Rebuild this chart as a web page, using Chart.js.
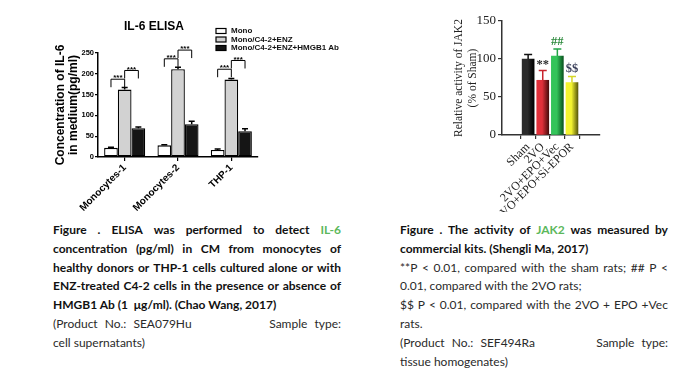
<!DOCTYPE html>
<html>
<head>
<meta charset="utf-8">
<script src="https://cdn.jsdelivr.net/npm/chart.js@4.4.1/dist/chart.umd.min.js"></script>
<style>
body{margin:0;background:#fff;width:691px;height:378px;overflow:hidden;position:relative;font-family:Lato,"Noto Sans",sans-serif}
.box{position:absolute;top:0}
.cap{position:absolute;top:221px;font-size:12px;line-height:18.8px;color:#2a2a2a}
.cap .ln{display:flex;white-space:nowrap;height:18.8px}
.cap .j{justify-content:space-between}
.cap .b{font-weight:700;color:#111}
.cap .g{color:#5cb85c}
.cap .grp{word-spacing:4px}
</style>
</head>
<body>
<div class="box" style="left:0;width:345px;height:212px"><canvas id="c1" width="345" height="212"></canvas></div>
<div class="box" style="left:430px;width:200px;height:212px"><canvas id="c2" width="200" height="212"></canvas></div>
<div id="cap1" class="cap" style="left:53px;width:288px"></div>
<div id="cap2" class="cap" style="left:400px;width:268px"></div>
<script>
// IL-6 ELISA (left)
const groups = ['Monocytes-1', 'Monocytes-2', 'THP-1'];
const seriesNames = ['Mono', 'Mono/C4-2+ENZ', 'Mono/C4-2+ENZ+HMGB1 Ab'];
const monoVals = [22, 28, 17];
const enzVals = [162, 211, 186];
const hmgbVals = [69, 79, 62];
const monoErr = [1.5, 1.5, 2];
const enzErr = [5, 5, 2.5];
const hmgbErr = [3, 7, 6];
const il6Ticks = [0, 50, 100, 150, 200, 250];

// JAK2 activity (right)
const jakGroups = ['Sham', '2VO', '2VO+EPO+Vec', '2VO+EPO+Si-EPOR'];
const jakVals = [100, 72, 104, 69];
const jakErr = [6, 13, 9, 8];
const jakMarks = ['', '**', '##', '$$'];
const jakTicks = [0, 50, 100, 150];

// captions: [kind, bold, text] kind j=justified, l=left, s=split
const cap1 = [
	['j', 1, 'Figure . ELISA was performed to detect {IL-6}'],
	['j', 1, 'concentration (pg/ml) in CM from monocytes of'],
	['j', 1, 'healthy donors or THP-1 cells cultured alone or with'],
	['j', 1, 'ENZ-treated C4-2 cells in the presence or absence of'],
	['l', 1, 'HMGB1 Ab (1 \u00a0\u03bcg/ml). (Chao Wang, 2017)'],
	['s', 0, '(Product No.: SEA079Hu|Sample type:'],
	['l', 0, 'cell supernatants)'],
];
const cap2 = [
	['j', 1, 'Figure . The activity of {JAK2} was measured by'],
	['l', 1, 'commercial kits. (Shengli Ma, 2017)'],
	['j', 0, '**P < 0.01, compared with the sham rats; ## P <'],
	['l', 0, '0.01, compared with the 2VO rats;'],
	['j', 0, '$$ P < 0.01, compared with the 2VO + EPO +Vec'],
	['l', 0, 'rats.'],
	['s', 0, '(Product No.: SEF494Ra|Sample type:'],
	['l', 0, 'tissue homogenates)'],
];

const esc = s => s.replace(/&/g,'&amp;').replace(/</g,'&lt;').replace(/\{(.*?)\}/g, '<span class="g">$1</span>');
const buildCap = (id, lines) => {
	const box = document.getElementById(id);
	lines.forEach(([k, b, t]) => {
		const d = document.createElement('div');
		d.className = 'ln' + (b ? ' b' : '') + (k != 'l' ? ' j' : '');
		if (k == 'j') d.innerHTML = t.split(' ').map(w => `<span>${esc(w)}</span>`).join('');
		else if (k == 's') d.innerHTML = t.split('|').map(w => `<span class="grp">${esc(w)}</span>`).join('');
		else d.innerHTML = `<span>${esc(t)}</span>`;
		box.appendChild(d);
	});
};
buildCap('cap1', cap1);
buildCap('cap2', cap2);

const sans = 'Liberation Sans';
const serif = 'Liberation Serif';

const errorBars = {
	id: 'errorBars',
	afterDatasetsDraw(chart) {
		const {ctx} = chart, y = chart.scales.y;
		chart.data.datasets.forEach((ds, j) => {
			if (!ds.err) return;
			chart.getDatasetMeta(j).data.forEach((el, i) => {
				const v = typeof ds.data[i] == 'object' ? ds.data[i].y : ds.data[i];
				const top = y.getPixelForValue(v + ds.err[i]);
				ctx.save();
				ctx.strokeStyle = Array.isArray(ds.errColor) ? ds.errColor[i] : ds.errColor;
				ctx.lineWidth = 1.5;
				ctx.beginPath();
				ctx.moveTo(el.x, el.y); ctx.lineTo(el.x, top);
				ctx.moveTo(el.x - ds.capW, top); ctx.lineTo(el.x + ds.capW, top);
				ctx.stroke();
				ctx.restore();
			});
		});
	}
};

const il6Extras = {
	id: 'il6Extras',
	afterDraw(chart) {
		const {ctx} = chart, y = chart.scales.y;
		const m = [0, 1, 2].map(j => chart.getDatasetMeta(j).data);
		ctx.save();
		ctx.strokeStyle = '#000'; ctx.fillStyle = '#000'; ctx.lineWidth = 1;
		ctx.font = `bold 8px "${sans}"`; ctx.textAlign = 'center'; ctx.textBaseline = 'bottom';
		groups.forEach((g, i) => {
			[[0, 1, 25], [1, 2, 46]].forEach(([a, b, off]) => {
				const x1 = m[a][i].x, x2 = m[b][i].x;
				const t = y.getPixelForValue(enzVals[i] + off);
				ctx.beginPath();
				ctx.moveTo(x1, t + 8); ctx.lineTo(x1, t); ctx.lineTo(x2, t); ctx.lineTo(x2, t + 8);
				ctx.stroke();
				ctx.fillText('***', (x1 + x2) / 2, t + 3);
			});
		});
		// legend
		const cols = chart.data.datasets.map(d => d.backgroundColor);
		ctx.textAlign = 'left'; ctx.textBaseline = 'middle';
		ctx.font = `bold 8px "${sans}"`;
		seriesNames.forEach((n, k) => {
			const yy = 31 + k * 8.5;
			ctx.fillStyle = cols[k];
			ctx.fillRect(216, yy - 2.5, 10, 5);
			ctx.lineWidth = 1.2; ctx.strokeStyle = '#000';
			ctx.strokeRect(216, yy - 2.5, 10, 5);
			ctx.fillStyle = '#111';
			ctx.fillText(n, 231, yy);
		});
		ctx.restore();
	}
};

new Chart(document.getElementById('c1'), {
	type: 'bar',
	data: {
		labels: groups,
		datasets: [
			{label: seriesNames[0], data: monoVals, err: monoErr, backgroundColor: '#ffffff'},
			{label: seriesNames[1], data: enzVals, err: enzErr, backgroundColor: '#d2d2d2'},
			{label: seriesNames[2], data: hmgbVals, err: hmgbErr, backgroundColor: '#151515'},
		].map(d => Object.assign(d, {borderColor: '#000', borderWidth: 1.3, borderSkipped: false, errColor: '#000', capW: 3, categoryPercentage: 0.77, barPercentage: 1}))
	},
	options: {
		responsive: false, animation: false, devicePixelRatio: 1,
		layout: {padding: {left: 50, right: 87, top: 0, bottom: 0}},
		plugins: {
			legend: {display: false}, tooltip: {enabled: false},
			title: {display: true, text: 'IL-6 ELISA', color: '#000', font: {family: sans, size: 12, weight: 'bold'}, padding: {top: 19, bottom: 19.6}},
		},
		scales: {
			x: {
				afterFit: s => { s.height = 55 },
				border: {color: '#000', width: 1.5},
				grid: {offset: false, drawOnChartArea: false, tickLength: 4, color: '#000', lineWidth: 1.2},
				ticks: {minRotation: 45, maxRotation: 45, padding: 1, color: '#000', font: {family: sans, size: 10, weight: 'bold'}},
			},
			y: {
				min: 0, max: 250,
				afterFit: s => { s.width = 48 },
				afterBuildTicks: s => { s.ticks = il6Ticks.map(v => ({value: v})) },
				border: {color: '#000', width: 1.5},
				grid: {drawOnChartArea: false, tickLength: 3, color: '#000', lineWidth: 1.2},
				ticks: {padding: 1, color: '#000', font: {family: sans, size: 7.5, weight: 'bold'}},
				title: {display: true, text: ['Concentration of IL-6', 'in medium(pg/ml)'], color: '#000', font: {family: sans, size: 12, weight: 'bold', lineHeight: 1.1}, padding: {top: 4, bottom: 0}},
			}
		}
	},
	plugins: [errorBars, il6Extras]
});

const jakCols = [['#2b2b2b', '#000000'], ['#e0303a', '#4a0c0c'], ['#34c45a', '#0a5520'], ['#f4f430', '#5a5a0a']];
const jakErrCols = ['#111', '#c8242e', '#22a446', '#d6d628'];
const jakMarkCols = ['#222', '#2a2a2a', '#2e8b3e', '#3a3f5a'];

const jakExtras = {
	id: 'jakExtras',
	afterDraw(chart) {
		const {ctx} = chart, y = chart.scales.y;
		ctx.save();
		ctx.font = `bold 12.5px "${serif}"`; ctx.textAlign = 'center'; ctx.textBaseline = 'alphabetic';
		chart.getDatasetMeta(0).data.forEach((el, i) => {
			if (!jakMarks[i]) return;
			ctx.fillStyle = jakMarkCols[i];
			ctx.fillText(jakMarks[i], el.x, y.getPixelForValue(jakVals[i] + jakErr[i]) - 4 - (jakMarks[i] == '**' ? -2 : 0));
		});
		ctx.restore();
	}
};

new Chart(document.getElementById('c2'), {
	type: 'bar',
	data: {
		datasets: [{
			data: jakVals.map((v, i) => ({x: i, y: v})),
			err: jakErr, errColor: jakErrCols, capW: 4,
			barThickness: 12,
			backgroundColor: c => {
				const ch = c.chart, k = c.dataIndex;
				if (!ch.chartArea || k == null) return jakCols[k || 0][0];
				const x = ch.scales.x.getPixelForValue(k);
				const g = ch.ctx.createLinearGradient(x - 6, 0, x + 6, 0);
				g.addColorStop(0, jakCols[k][0]);
				g.addColorStop(0.45, jakCols[k][0]);
				g.addColorStop(1, jakCols[k][1]);
				return g;
			},
		}]
	},
	options: {
		responsive: false, animation: false, devicePixelRatio: 1,
		layout: {padding: {left: 20, right: 30, top: 21, bottom: 0}},
		plugins: {legend: {display: false}, tooltip: {enabled: false}},
		scales: {
			x: {
				type: 'linear', min: -0.95, max: 4.08,
				afterFit: s => { s.height = 77 },
				afterBuildTicks: s => { s.ticks = jakGroups.map((g, i) => ({value: i})) },
				border: {color: '#333', width: 1.5},
				grid: {drawOnChartArea: false, tickLength: 4, color: '#333', lineWidth: 1.2},
				ticks: {autoSkip: false, minRotation: 45, maxRotation: 45, padding: 1, color: '#222', font: {family: serif, size: 12}, callback: v => jakGroups[v]},
			},
			y: {
				min: 0, max: 150,
				afterFit: s => { s.width = 52 },
				afterBuildTicks: s => { s.ticks = jakTicks.map(v => ({value: v})) },
				border: {color: '#333', width: 1.5},
				grid: {drawOnChartArea: false, tickLength: 4, color: '#333', lineWidth: 1.2},
				ticks: {padding: 2, color: '#222', font: {family: serif, size: 13}},
				title: {display: true, text: ['Relative activity of JAK2', '(% of Sham)'], color: '#222', font: {family: serif, size: 11.5, lineHeight: 1.2}, padding: {top: 2, bottom: 0}},
			}
		}
	},
	plugins: [errorBars, jakExtras]
});
</script>
</body>
</html>
